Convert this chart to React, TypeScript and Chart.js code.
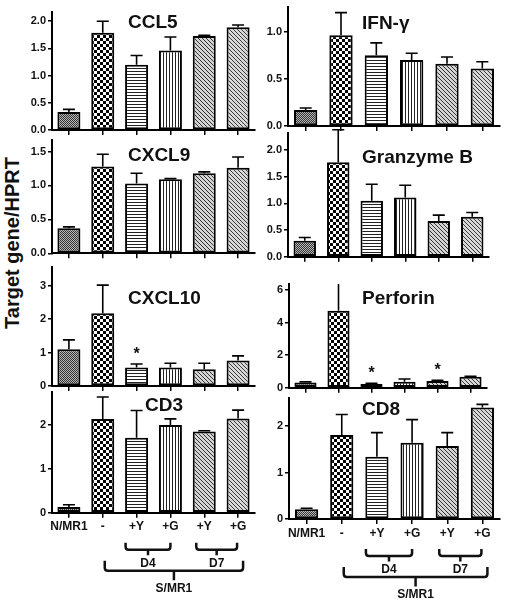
import React, { useEffect, useRef } from 'react';
import { Chart, registerables } from 'chart.js';

Chart.register(...registerables);

// ---------- data ----------
const categories = ['N/MR1', '-', '+Y', '+G', '+Y', '+G'];

const ccl5Mean = [0.33, 1.79, 1.2, 1.46, 1.73, 1.89];
const ccl5Sem = [0.05, 0.21, 0.17, 0.25, 0.01, 0.04];

const ifngMean = [0.17, 0.96, 0.75, 0.7, 0.66, 0.61];
const ifngSem = [0.02, 0.24, 0.13, 0.07, 0.07, 0.07];

const cxcl9Mean = [0.37, 1.28, 1.03, 1.09, 1.18, 1.26];
const cxcl9Sem = [0.02, 0.18, 0.15, 0.01, 0.02, 0.16];

const gzmbMean = [0.3, 1.77, 1.05, 1.11, 0.67, 0.75];
const gzmbSem = [0.06, 0.61, 0.31, 0.23, 0.11, 0.08];

const cxcl10Mean = [1.1, 2.18, 0.55, 0.55, 0.5, 0.76];
const cxcl10Sem = [0.28, 0.84, 0.11, 0.13, 0.18, 0.14];
const cxcl10Sig = [false, false, true, false, false, false];

const prfMean = [0.32, 4.72, 0.23, 0.37, 0.41, 0.67];
const prfSem = [0.04, 1.9, 0.04, 0.16, 0.04, 0.03];
const prfSig = [false, false, true, false, true, false];

const cd3Mean = [0.13, 2.14, 1.71, 2.0, 1.85, 2.15];
const cd3Sem = [0.05, 0.5, 0.62, 0.14, 0.02, 0.19];

const cd8Mean = [0.21, 1.81, 1.34, 1.64, 1.57, 2.4];
const cd8Sem = [0.02, 0.44, 0.52, 0.5, 0.29, 0.07];

const noSig = [false, false, false, false, false, false];

const yAxisTitle = 'Target gene/HPRT';
const groupD4 = 'D4';
const groupD7 = 'D7';
const groupAll = 'S/MR1';

// ---------- layout / style ----------
const FONT = 'Arial, "Liberation Sans", Helvetica, sans-serif';
const Y_AXIS_W = 36;

type Panel = {
  title: string;
  mean: number[];
  sem: number[];
  sig: boolean[];
  max: number;
  step: number;
  dec: number;
  axisX: number;
  xEnd: number;
  yTop: number;
  yBottom: number;
  titleX: number;
  titleY: number;
  bottom: boolean;
  clipErr: boolean;
  barPct: number;
};

const panels: Panel[] = [
  { title: 'CCL5', mean: ccl5Mean, sem: ccl5Sem, sig: noSig, max: 2.17, step: 0.5, dec: 1, axisX: 52, xEnd: 255, yTop: 12, yBottom: 130, titleX: 128, titleY: 21, bottom: false, clipErr: false, barPct: 0.68 },
  { title: 'CXCL9', mean: cxcl9Mean, sem: cxcl9Sem, sig: noSig, max: 1.67, step: 0.5, dec: 1, axisX: 52, xEnd: 255, yTop: 140, yBottom: 253.3, titleX: 128, titleY: 154, bottom: false, clipErr: false, barPct: 0.68 },
  { title: 'CXCL10', mean: cxcl10Mean, sem: cxcl10Sem, sig: cxcl10Sig, max: 3.57, step: 1, dec: 0, axisX: 52, xEnd: 255, yTop: 266.7, yBottom: 386, titleX: 128, titleY: 296.7, bottom: false, clipErr: false, barPct: 0.68 },
  { title: 'CD3', mean: cd3Mean, sem: cd3Sem, sig: noSig, max: 2.76, step: 1, dec: 0, axisX: 52, xEnd: 255, yTop: 391.7, yBottom: 512.7, titleX: 145, titleY: 404.3, bottom: true, clipErr: false, barPct: 0.68 },
  { title: 'IFN-γ', mean: ifngMean, sem: ifngSem, sig: noSig, max: 1.26, step: 0.5, dec: 1, axisX: 288, xEnd: 500, yTop: 7, yBottom: 126, titleX: 362, titleY: 22, bottom: false, clipErr: false, barPct: 0.66 },
  { title: 'Granzyme B', mean: gzmbMean, sem: gzmbSem, sig: noSig, max: 2.32, step: 0.5, dec: 1, axisX: 288, xEnd: 489, yTop: 133, yBottom: 256.7, titleX: 362, titleY: 156, bottom: false, clipErr: false, barPct: 0.67 },
  { title: 'Perforin', mean: prfMean, sem: prfSem, sig: prfSig, max: 6.36, step: 2, dec: 0, axisX: 289, xEnd: 487, yTop: 284, yBottom: 387.7, titleX: 362, titleY: 297, bottom: false, clipErr: true, barPct: 0.67 },
  { title: 'CD8', mean: cd8Mean, sem: cd8Sem, sig: noSig, max: 2.6, step: 1, dec: 0, axisX: 289, xEnd: 500, yTop: 398.3, yBottom: 519, titleX: 362, titleY: 407.7, bottom: true, clipErr: false, barPct: 0.66 },
];

type Box = { cLeft: number; cTop: number; cW: number; cH: number; padTop: number; padRight: number; padBottom: number; hx: number };

function boxFor(p: Panel): Box {
  const cLeft = p.axisX - Y_AXIS_W;
  const cTop = Math.floor(p.yTop - 16);
  const padTop = p.yTop - cTop;
  const cW = Math.round(p.xEnd + 6 - cLeft);
  const padRight = cW - (p.xEnd - cLeft);
  const cBottom = p.bottom ? 604 : Math.ceil(p.yBottom + 10);
  const cH = cBottom - cTop;
  const hx = p.bottom ? 22 : 8;
  const padBottom = cH - padTop - (p.yBottom - p.yTop) - hx;
  return { cLeft, cTop, cW, cH, padTop, padRight, padBottom, hx };
}

const boxes = panels.map(boxFor);

function makePatterns(): (CanvasPattern | string)[] {
  const mk = (w: number, h: number, draw: (c: CanvasRenderingContext2D) => void) => {
    const cv = document.createElement('canvas');
    cv.width = w;
    cv.height = h;
    const c = cv.getContext('2d')!;
    draw(c);
    return c.createPattern(cv, 'repeat') as CanvasPattern;
  };
  const fine = mk(2, 2, (c) => {
    c.fillStyle = '#b8b8b8';
    c.fillRect(0, 0, 2, 2);
    c.fillStyle = '#333';
    c.fillRect(0, 0, 1, 1);
    c.fillRect(1, 1, 1, 1);
  });
  const checker = mk(6, 6, (c) => {
    c.fillStyle = '#fff';
    c.fillRect(0, 0, 6, 6);
    c.fillStyle = '#000';
    c.fillRect(0, 0, 3, 3);
    c.fillRect(3, 3, 3, 3);
  });
  const hlines = mk(3, 3, (c) => {
    c.fillStyle = '#fff';
    c.fillRect(0, 0, 3, 3);
    c.fillStyle = '#222';
    c.fillRect(0, 0, 3, 1);
  });
  const vlines = mk(3, 3, (c) => {
    c.fillStyle = '#fff';
    c.fillRect(0, 0, 3, 3);
    c.fillStyle = '#222';
    c.fillRect(0, 0, 1, 3);
  });
  const diag = (n: number, bg: string, fg: string) =>
    mk(n, n, (c) => {
      c.fillStyle = bg;
      c.fillRect(0, 0, n, n);
      c.fillStyle = fg;
      for (let i = 0; i < n; i++) c.fillRect(i, i, 1, 1);
    });
  return [fine, checker, hlines, vlines, diag(4, '#d4d4d4', '#333'), diag(4, '#d8d8d8', '#3a3a3a')];
}

function panelPlugin(p: Panel, b: Box) {
  return {
    id: 'panelDeco',
    afterDatasetsDraw(chart: any) {
      const ctx: CanvasRenderingContext2D = chart.ctx;
      const ys = chart.scales.y;
      const meta = chart.getDatasetMeta(0);
      ctx.save();
      ctx.strokeStyle = '#000';
      ctx.lineWidth = 1.6;
      meta.data.forEach((el: any, i: number) => {
        const top = p.mean[i] + p.sem[i];
        let yErr = ys.getPixelForValue(top);
        let cap = true;
        if (p.clipErr && yErr < chart.chartArea.top) {
          yErr = chart.chartArea.top;
          cap = false;
        }
        ctx.beginPath();
        ctx.moveTo(el.x, el.y);
        ctx.lineTo(el.x, yErr);
        if (cap) {
          ctx.moveTo(el.x - 6, yErr);
          ctx.lineTo(el.x + 6, yErr);
        }
        ctx.stroke();
        if (p.sig[i]) {
          ctx.fillStyle = '#111';
          ctx.font = `bold 16px ${FONT}`;
          ctx.textAlign = 'center';
          ctx.textBaseline = 'alphabetic';
          ctx.fillText('*', el.x, yErr - 5);
        }
      });
      ctx.restore();
    },
    afterDraw(chart: any) {
      const ctx: CanvasRenderingContext2D = chart.ctx;
      ctx.save();
      ctx.fillStyle = '#111';
      ctx.font = `bold 19px ${FONT}`;
      ctx.textAlign = 'left';
      ctx.textBaseline = 'alphabetic';
      ctx.fillText(p.title, p.titleX - b.cLeft, p.titleY - b.cTop + 6.8);

      if (p.bottom) {
        const xs = chart.scales.x;
        const y0 = chart.chartArea.bottom;
        const c = (i: number) => xs.getPixelForValue(i);
        ctx.strokeStyle = '#111';
        ctx.lineWidth = 2.5;
        ctx.lineCap = 'butt';
        const bracket = (xa: number, xb: number, yLine: number, yTip: number, yNotch: number) => {
          const r = 3;
          ctx.beginPath();
          ctx.moveTo(xa, yTip);
          ctx.lineTo(xa, yLine - r);
          ctx.quadraticCurveTo(xa, yLine, xa + r, yLine);
          ctx.lineTo(xb - r, yLine);
          ctx.quadraticCurveTo(xb, yLine, xb, yLine - r);
          ctx.lineTo(xb, yTip);
          const xm = (xa + xb) / 2;
          ctx.moveTo(xm, yLine);
          ctx.lineTo(xm, yNotch);
          ctx.stroke();
          return xm;
        };
        ctx.font = `bold 12px ${FONT}`;
        ctx.textAlign = 'center';
        ctx.textBaseline = 'middle';
        const m4 = bracket(c(2) - 11, c(3), y0 + 37, y0 + 30, y0 + 42.5);
        ctx.fillText(groupD4, m4, y0 + 50.5);
        const m7 = bracket(c(4) - 8, c(5) - 1, y0 + 37, y0 + 30, y0 + 42.5);
        ctx.fillText(groupD7, m7, y0 + 50.5);
        const ms = bracket(c(1) + 2, c(5) + 5, y0 + 58, y0 + 48, y0 + 67.5);
        ctx.fillText(groupAll, ms, y0 + 76);
      }
      ctx.restore();
    },
  };
}

function buildChart(canvas: HTMLCanvasElement, p: Panel, b: Box, patterns: (CanvasPattern | string)[]) {
  const gridCommon = {
    drawOnChartArea: false,
    drawTicks: true,
    color: '#000',
    lineWidth: 1.5,
  };
  return new Chart(canvas, {
    type: 'bar',
    data: {
      labels: categories,
      datasets: [
        {
          data: p.mean,
          backgroundColor: patterns as any,
          borderColor: '#000',
          borderWidth: 2,
          borderSkipped: false,
          barPercentage: p.barPct,
          categoryPercentage: 1,
        },
      ],
    },
    options: {
      animation: false,
      responsive: false,
      maintainAspectRatio: false,
      devicePixelRatio: 1,
      layout: { padding: { left: 0, top: b.padTop, right: b.padRight, bottom: b.padBottom } },
      plugins: { legend: { display: false }, tooltip: { enabled: false }, title: { display: false } },
      scales: {
        x: {
          type: 'category',
          offset: true,
          grid: { ...gridCommon, offset: false, tickLength: 5 },
          border: { display: true, color: '#000', width: 2 },
          ticks: {
            display: p.bottom,
            autoSkip: false,
            maxRotation: 0,
            padding: 2,
            color: '#111',
            font: { family: FONT, size: 12, weight: 'bold' },
          },
          afterFit: (s: any) => {
            s.height = b.hx;
          },
        },
        y: {
          type: 'linear',
          min: 0,
          max: p.max,
          grid: { ...gridCommon, tickLength: 4 },
          border: { display: true, color: '#000', width: 2 },
          ticks: {
            stepSize: p.step,
            includeBounds: false,
            padding: 2,
            color: '#111',
            font: { family: FONT, size: 11, weight: 'bold' },
            callback: (v: any) => Number(v).toFixed(p.dec),
          },
          afterFit: (s: any) => {
            s.width = Y_AXIS_W;
          },
        },
      } as any,
    },
    plugins: [panelPlugin(p, b) as any],
  });
}

export default function App() {
  const refs = useRef<(HTMLCanvasElement | null)[]>([]);

  useEffect(() => {
    const patterns = makePatterns();
    const charts = panels.map((p, i) => buildChart(refs.current[i]!, p, boxes[i], patterns));
    return () => {
      charts.forEach((c) => c.destroy());
    };
  }, []);

  return (
    <div
      style={{
        position: 'absolute',
        left: 0,
        top: 0,
        width: 508,
        height: 604,
        background: '#fff',
        overflow: 'hidden',
      }}
    >
      <div
        style={{
          position: 'absolute',
          left: 12,
          top: 243,
          transform: 'translate(-50%, -50%) rotate(-90deg)',
          whiteSpace: 'nowrap',
          font: `bold 20px ${FONT}`,
          color: '#111',
        }}
      >
        {yAxisTitle}
      </div>
      {boxes.map((b, i) => (
        <canvas
          key={i}
          ref={(el) => {
            refs.current[i] = el;
          }}
          width={b.cW}
          height={b.cH}
          style={{ position: 'absolute', left: b.cLeft, top: b.cTop, width: b.cW, height: b.cH }}
        />
      ))}
    </div>
  );
}
